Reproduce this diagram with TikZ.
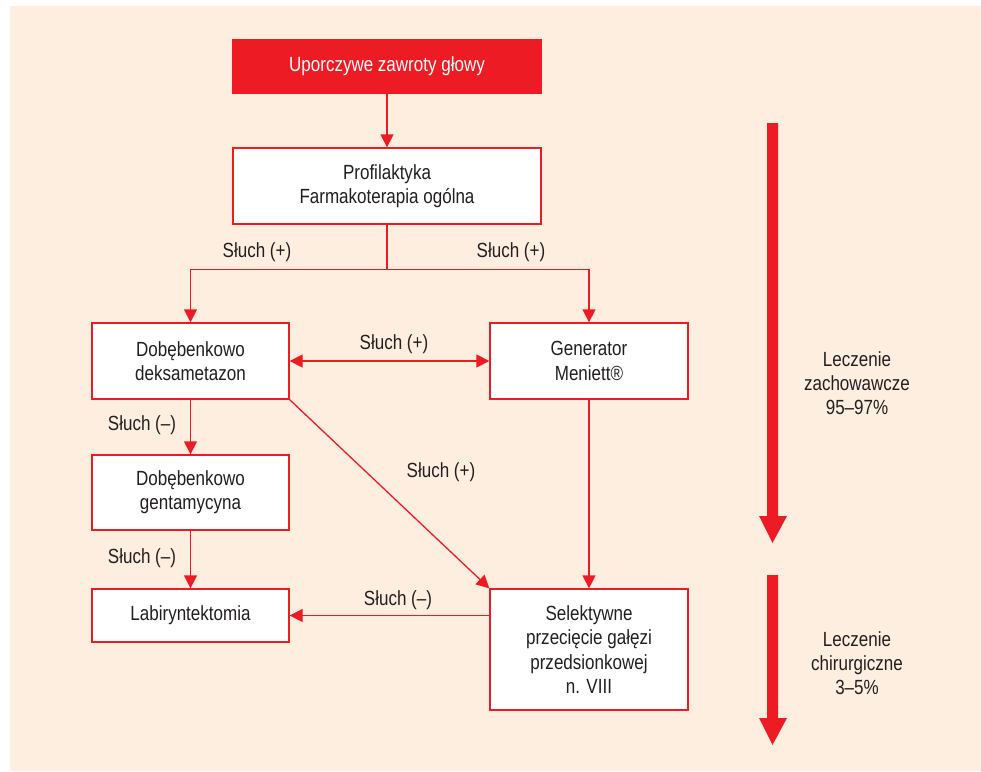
\documentclass[tikz,border=0pt]{standalone}
\usepackage{fontspec}
\setmainfont{Liberation Sans}[FakeStretch=0.83]
\usetikzlibrary{arrows.meta}
\definecolor{myred}{HTML}{ED1C24}
\definecolor{peach}{HTML}{FEEEE0}
\definecolor{ink}{HTML}{231F20}
\begin{document}
\begin{tikzpicture}[x=1pt,y=-1pt,
  box/.style={draw=myred,line width=1.3pt,fill=white,text=ink,align=center,inner sep=0pt,
    font=\fontsize{20.5}{24.3}\selectfont},
  lbl/.style={text=ink,inner sep=0pt,font=\fontsize{20.5}{24.3}\selectfont,align=center},
  conn/.style={draw=myred,line width=1.3pt},
  arr/.style={conn,-{Triangle[width=13pt,length=13pt]}},
  arrb/.style={conn,{Triangle[width=13pt,length=13pt]}-{Triangle[width=13pt,length=13pt]}}]
\useasboundingbox (0,0) rectangle (981,771);
\fill[white] (0,0) rectangle (981,771);
\fill[peach] (10,6) rectangle (981,771);
% boxes
\node[box,fill=myred,text=white,minimum width=308pt,minimum height=53pt] (top) at (387,66.5) {Uporczywe zawroty głowy};
\node[box,minimum width=308pt,minimum height=76pt] (prof) at (387,186) {Profilaktyka\\Farmakoterapia ogólna};
\node[box,minimum width=197pt,minimum height=76pt] (deks) at (190.5,361) {Dobębenkowo\\deksametazon};
\node[box,minimum width=198pt,minimum height=76pt] (gen) at (589,361) {Generator\\Meniett®};
\node[box,minimum width=197pt,minimum height=75pt] (gent) at (190.5,492.5) {Dobębenkowo\\gentamycyna};
\node[box,minimum width=197pt,minimum height=53pt] (lab) at (190.5,615.5) {Labiryntektomia};
\node[box,minimum width=198pt,minimum height=121pt] (sel) at (589,649.5) {Selektywne\\przecięcie gałęzi\\przedsionkowej\\n. VIII};
% connectors
\coordinate (j) at (387,269.5);
\draw[arr] (top) -- (prof);
\draw[conn] (prof.south) -- (j);
\draw[arr] (j) -| (deks.north);
\draw[arr] (j) -| (gen.north);
\draw[arrb] (deks.east) -- (gen.west);
\draw[arr] (deks.south) -- (gent.north);
\draw[arr] (gent.south) -- (lab.north);
\draw[arr] (deks.south east) -- (sel.north west);
\draw[arr] (gen.south) -- (sel.north);
\draw[arr] (lab.east -| sel.west) -- (lab.east);
% labels
\node[lbl] (l1) at (257,252) {Słuch (+)};
\node[lbl] (l2) at (511,252) {Słuch (+)};
\node[lbl] (l3) at (394,344) {Słuch (+)};
\node[lbl] (l4) at (441,472) {Słuch (+)};
\node[lbl] (l5) at (142,425) {Słuch (–)};
\node[lbl] (l6) at (142,558) {Słuch (–)};
\node[lbl] (l7) at (398,600) {Słuch (–)};
% big arrows
\fill[myred] (767,123) -- (778,123) -- (778,516) -- (787,516) -- (772.5,543) -- (759,516) -- (767,516) -- cycle;
\fill[myred] (767,575) -- (778,575) -- (778,718) -- (787,718) -- (772.5,745) -- (759,718) -- (767,718) -- cycle;
\node[lbl] (t1) at (857,383) {Leczenie\\zachowawcze\\95–97\%};
\node[lbl] (t2) at (857,663) {Leczenie\\chirurgiczne\\3–5\%};
\end{tikzpicture}
\end{document}
